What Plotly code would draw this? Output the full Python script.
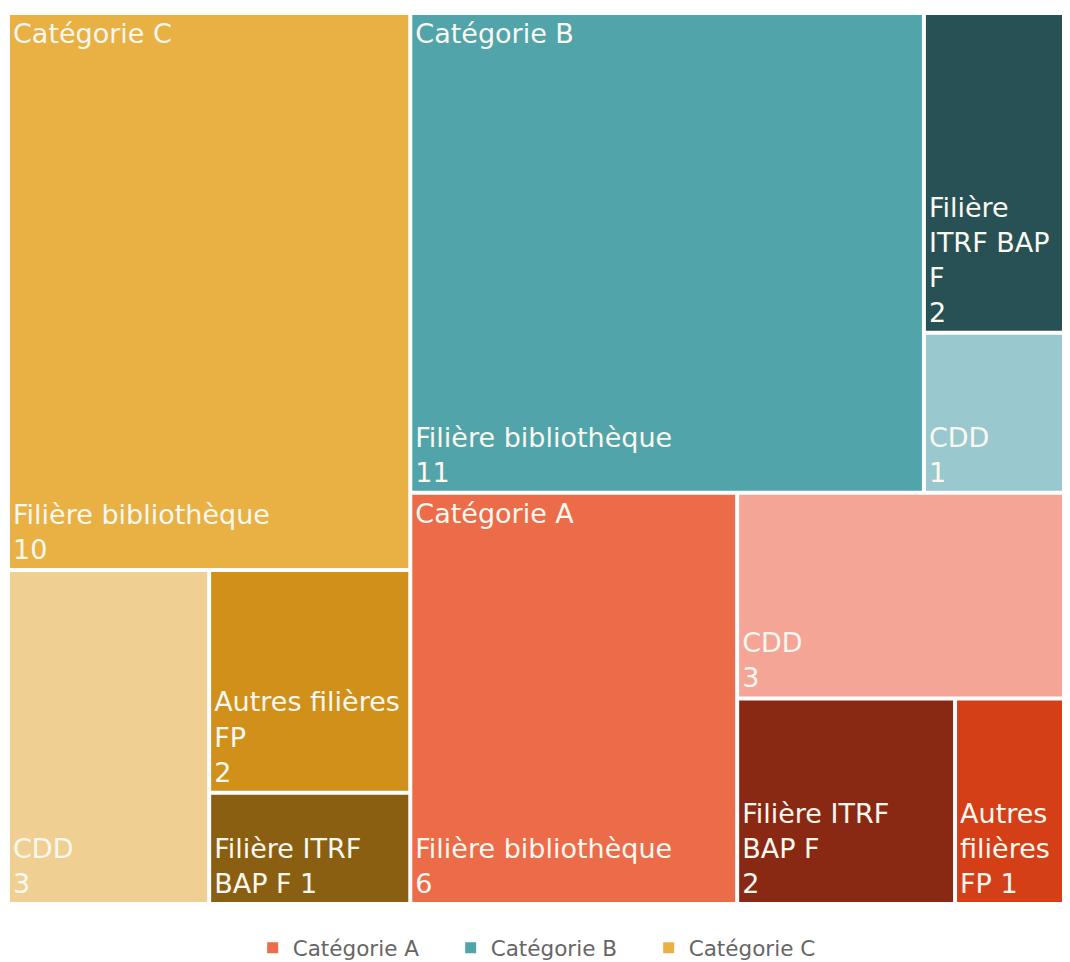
import plotly.graph_objects as go

# ---- data ----
categories = ["Catégorie C", "Catégorie B", "Catégorie A"]
cat_colors = ["#E9B143", "#52A4AB", "#EC6C4A"]

sub_labels = {
    "Catégorie C": ["Filière bibliothèque", "CDD", "Autres filières FP", "Filière ITRF BAP F"],
    "Catégorie B": ["Filière bibliothèque", "Filière ITRF BAP F", "CDD"],
    "Catégorie A": ["Filière bibliothèque", "CDD", "Filière ITRF BAP F", "Autres filières FP"],
}
sub_values = {
    "Catégorie C": [10, 3, 2, 1],
    "Catégorie B": [11, 2, 1],
    "Catégorie A": [6, 3, 2, 1],
}
sub_display = {
    "Catégorie C": ["Filière bibliothèque<br>{v}", "CDD<br>{v}", "Autres filières<br>FP<br>{v}", "Filière ITRF<br>BAP F {v}"],
    "Catégorie B": ["Filière bibliothèque<br>{v}", "Filière<br>ITRF BAP<br>F<br>{v}", "CDD<br>{v}"],
    "Catégorie A": ["Filière bibliothèque<br>{v}", "CDD<br>{v}", "Filière ITRF<br>BAP F<br>{v}", "Autres<br>filières<br>FP {v}"],
}
sub_colors = {
    "Catégorie C": ["#E9B143", "#F0D092", "#D09019", "#8A5F12"],
    "Catégorie B": ["#52A4AB", "#285155", "#99C9CF"],
    "Catégorie A": ["#EC6C4A", "#F4A595", "#8A2913", "#D43F17"],
}
legend_order = ["Catégorie A", "Catégorie B", "Catégorie C"]

ids, labels, parents, values, colors, texts, head_texts = [], [], [], [], [], [], []
for cat in categories:
    ids.append(cat)
    labels.append(cat)
    parents.append("")
    values.append(sum(sub_values[cat]))
    colors.append("white")
    texts.append("")
    head_texts.append("")
    for i, (lab, v, disp, col) in enumerate(zip(sub_labels[cat], sub_values[cat], sub_display[cat], sub_colors[cat])):
        ids.append(cat + "/" + lab)
        labels.append(lab)
        parents.append(cat)
        values.append(v)
        colors.append(col)
        texts.append(disp.format(v=v))
        head_texts.append(cat if i == 0 else "")

FONT = "DejaVu Sans"
TXT = "#FBF8F0"
FS = 27

common = dict(
    ids=ids, labels=labels, parents=parents, values=values,
    branchvalues="total", sort=False,
    tiling=dict(packing="binary", pad=4),
    pathbar=dict(visible=False),
    textinfo="text", texttemplate="%{text}",
)

fig = go.Figure()
fig.add_trace(go.Treemap(
    **common,
    text=texts,
    marker=dict(colors=colors, pad=dict(t=0, l=0, r=0, b=0), line=dict(width=0)),
    textposition="bottom left",
    textfont=dict(family=FONT, size=FS, color=TXT),
    hovertemplate="%{label}: %{value}<extra></extra>",
))
fig.add_trace(go.Treemap(
    **common,
    text=head_texts,
    marker=dict(colors=["rgba(0,0,0,0)"] * len(ids), pad=dict(t=0, l=0, r=0, b=0), line=dict(width=0)),
    textposition="top left",
    textfont=dict(family=FONT, size=FS, color=TXT),
    hoverinfo="skip",
))

for cat in legend_order:
    fig.add_trace(go.Scatter(
        x=[None], y=[None], mode="markers", name=cat,
        marker=dict(symbol="square", size=11, color=cat_colors[categories.index(cat)]),
        showlegend=True,
    ))

fig.update_layout(
    width=1054, height=962, autosize=False,
    margin=dict(l=2, r=0, t=7, b=68),
    paper_bgcolor="white", plot_bgcolor="white",
    template="none",
    uniformtext=dict(minsize=FS, mode="show"),
    xaxis=dict(visible=False), yaxis=dict(visible=False),
    legend=dict(orientation="h", x=0.513, xanchor="center", yref="container", y=0.023, yanchor="middle",
                font=dict(family=FONT, size=21.5, color="#666666"), itemwidth=30,
                entrywidth=153, entrywidthmode="pixels", traceorder="normal"),
)

fig.write_html("out.html", config={"responsive": False})
